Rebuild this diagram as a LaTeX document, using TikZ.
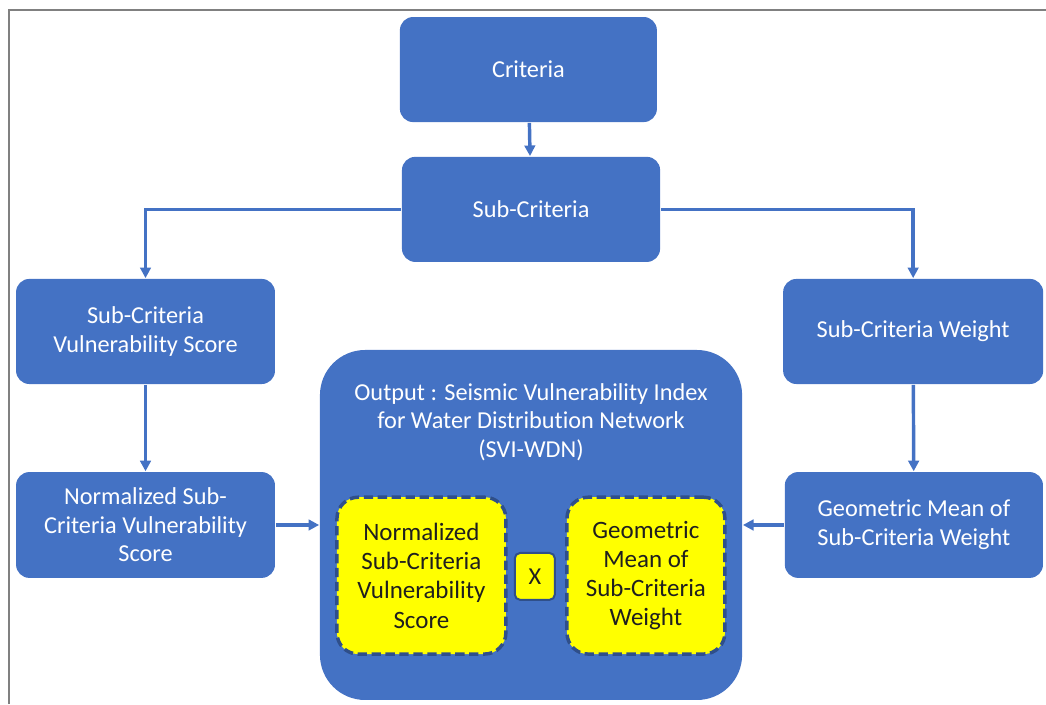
\documentclass[tikz,border=0pt]{standalone}
\usepackage{fontspec}
\setmainfont{Carlito}[Ligatures=NoCommon]
\usetikzlibrary{arrows.meta, positioning}
\definecolor{cblue}{HTML}{4472C4}
\definecolor{cnavy}{HTML}{2F4F8A}
\definecolor{cyellow}{HTML}{FFFF00}
\definecolor{cframe}{HTML}{808080}
\definecolor{ctext}{HTML}{1F1F1F}
\tikzset{
  every picture/.style={font=\fontsize{18.3}{21.5}\selectfont, line width=1.2pt},
  box/.style={draw=none, fill=cblue, text=white, rounded corners=10pt, align=center, inner sep=4pt},
  hl/.style={draw=cnavy, fill=cyellow, text=ctext, dashed, dash pattern=on 7pt off 3.5pt, line width=2.6pt, rounded corners=16pt, align=center, inner sep=2pt, minimum height=4.15cm, font=\fontsize{18.8}{22}\selectfont},
  arrow/.style={-{Triangle[length=2.8mm, width=2.8mm]}, draw=cblue, line width=2.6pt},
}

\begin{document}
\begin{tikzpicture}
  \useasboundingbox (0,0) rectangle (27.675,-18.627);
  % frame
  \draw[cframe, line width=1.5pt] (0.238,-18.627) -- (0.238,-0.265) -- (27.675,-0.265);
  % top chain
  \node[box, minimum width=6.80cm, minimum height=2.78cm] (crit) at (13.98,-1.84) {Criteria};
  \node[box, minimum width=6.83cm, minimum height=2.78cm] (sub) at (14.05,-5.54) {Sub-Criteria};
  \draw[arrow] (crit) -- (sub);
  % left column
  \node[box, minimum width=6.85cm, minimum height=2.78cm] (vscore) at (3.85,-8.77) {Sub-Criteria\\Vulnerability Score};
  \node[box, minimum width=6.85cm, minimum height=2.80cm] (norm) at (3.85,-13.89) {Normalized Sub-\\Criteria Vulnerability\\Score};
  % right column
  \node[box, minimum width=6.88cm, minimum height=2.78cm] (weight) at (24.16,-8.77) {Sub-Criteria Weight};
  \node[box, minimum width=6.83cm, minimum height=2.80cm] (geo) at (24.18,-13.89) {Geometric Mean of\\Sub-Criteria Weight};
  \draw[arrow] (sub.west) -| (vscore.north);
  \draw[arrow] (sub.east) -| (weight.north);
  \draw[arrow] (vscore) -- (norm);
  \draw[arrow] (weight) -- (geo);
  % output
  \node[box, rounded corners=34pt, minimum width=11.17cm, minimum height=9.26cm] (out) at (14.05,-13.89) {};
  \node[text=white, align=center, inner sep=0pt] (title) at (14.05,-11.17) {Output : Seismic Vulnerability Index\\for Water Distribution Network\\(SVI-WDN)};
  \node[hl, minimum width=4.47cm] (yl) at (11.15,-15.23) {Normalized\\Sub-Criteria\\Vulnerability\\Score};
  \node[hl, minimum width=4.18cm] (yr) at (17.09,-15.23) {Geometric\\Mean of\\Sub-Criteria\\Weight};
  \node[draw=cnavy, fill=cyellow, text=ctext, line width=1.5pt, rounded corners=4pt, minimum width=1.06cm, minimum height=1.24cm, inner sep=0pt] (times) at (14.15,-15.25) {X};
  \draw[arrow] (norm) -- (out);
  \draw[arrow] (geo) -- (out);
\end{tikzpicture}
\end{document}
